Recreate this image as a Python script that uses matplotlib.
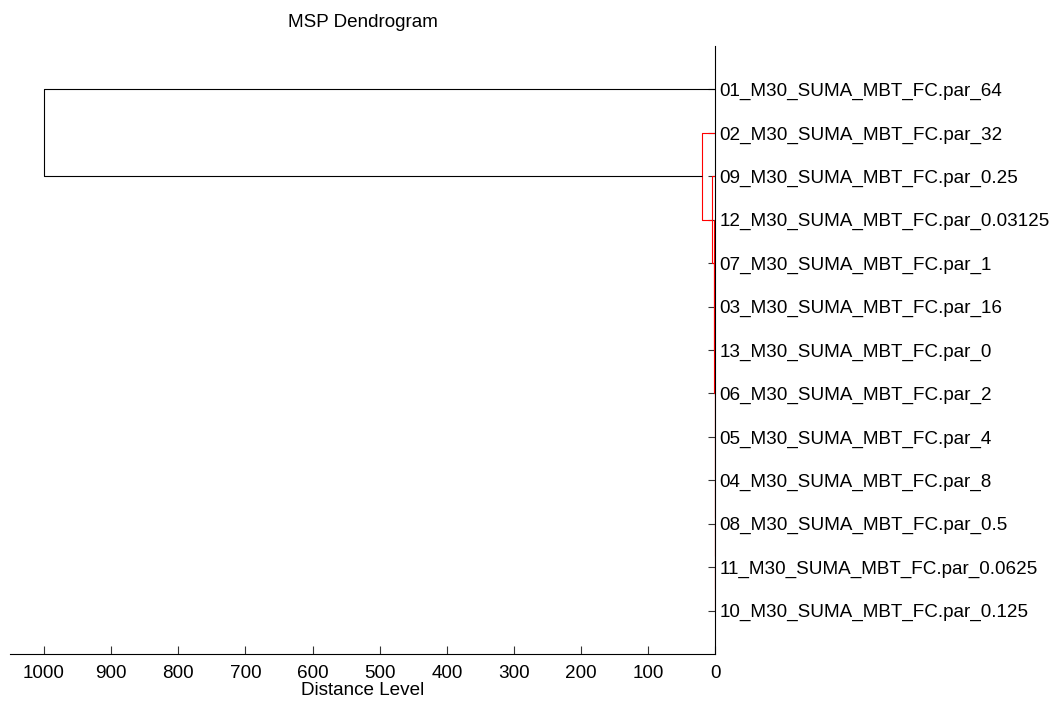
import matplotlib.pyplot as plt

plt.rcParams['font.family'] = ['Liberation Sans', 'DejaVu Sans']

# leaves, top to bottom as shown
leaf_labels = [
    "01_M30_SUMA_MBT_FC.par_64",
    "02_M30_SUMA_MBT_FC.par_32",
    "09_M30_SUMA_MBT_FC.par_0.25",
    "12_M30_SUMA_MBT_FC.par_0.03125",
    "07_M30_SUMA_MBT_FC.par_1",
    "03_M30_SUMA_MBT_FC.par_16",
    "13_M30_SUMA_MBT_FC.par_0",
    "06_M30_SUMA_MBT_FC.par_2",
    "05_M30_SUMA_MBT_FC.par_4",
    "04_M30_SUMA_MBT_FC.par_8",
    "08_M30_SUMA_MBT_FC.par_0.5",
    "11_M30_SUMA_MBT_FC.par_0.0625",
    "10_M30_SUMA_MBT_FC.par_0.125",
]

# linkage rows: index < 13 is a leaf, otherwise 13 + row of an earlier merge
link_left = [11, 10, 9, 8, 7, 6, 5, 4, 3, 2, 1, 0]
link_right = [12, 13, 14, 15, 16, 17, 18, 19, 20, 21, 22, 23]
link_dist = [0.3, 0.4, 0.5, 0.6, 0.8, 1.2, 1.6, 2.2, 2.8, 4.8, 19.7, 1000]
color_threshold = 700

x_ticks = [1000, 900, 800, 700, 600, 500, 400, 300, 200, 100, 0]

fs = 13.6

fig = plt.figure(figsize=(10.58, 7.05), dpi=100)
ax = fig.add_axes([0.00974, 0.0723, 0.6665, 0.8624])

pos = [i + 1 for i in range(len(leaf_labels))]
height = [0.0] * len(leaf_labels)

for a, b, d in zip(link_left, link_right, link_dist):
    col = '#ff0000' if d < color_threshold else 'black'
    ax.plot([height[a], d, d, height[b]], [pos[a], pos[a], pos[b], pos[b]],
            color=col, lw=0.8, solid_capstyle='butt')
    pos.append((pos[a] + pos[b]) / 2)
    height.append(d)

ax.set_xlim(1050, 0)
ax.set_ylim(len(leaf_labels) + 1, 0)

ax.spines['top'].set_visible(False)
ax.spines['left'].set_visible(False)
ax.spines['bottom'].set_linewidth(0.8)
ax.spines['right'].set_linewidth(0.8)

ax.yaxis.tick_right()
ax.set_yticks(range(1, len(leaf_labels) + 1))
ax.set_yticklabels(leaf_labels)
ax.tick_params(axis='y', direction='in', length=5, width=0.8, pad=3, labelsize=fs,
               color='#333333')

ax.set_xticks(x_ticks)
ax.set_xticklabels([str(t) for t in x_ticks])
ax.tick_params(axis='x', direction='in', length=6, width=0.8, pad=8, labelsize=fs,
               color='#333333')

ax.set_xlabel('Distance Level', fontsize=fs, labelpad=0)
ax.set_title('MSP Dendrogram', fontsize=fs, pad=14)

fig.savefig('out.png', dpi=100)
